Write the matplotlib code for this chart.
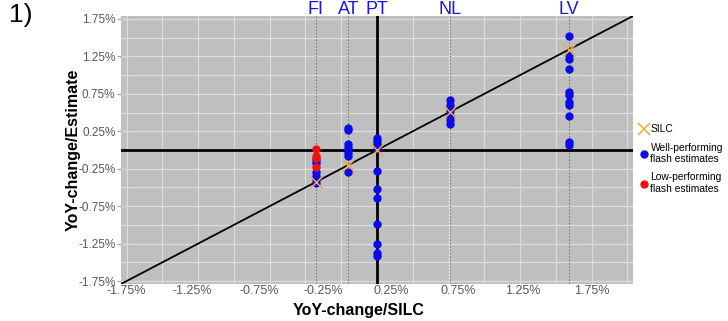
import numpy as np
import matplotlib.pyplot as plt
from matplotlib.lines import Line2D
from matplotlib.transforms import offset_copy

plt.rcParams['font.family'] = ['Liberation Sans', 'DejaVu Sans']

# Daten (YoY-Veränderung in %)
countries = ['FI', 'AT', 'PT', 'NL', 'LV']
silc = [-0.43, -0.20, 0.0, 0.51, 1.34]

fi_well = [-0.13, -0.17, -0.30, -0.35, -0.40, -0.44]
fi_low = [0.02, -0.08, -0.11, -0.23]
at_well = [0.30, 0.27, 0.08, 0.04, 0.0, -0.04, -0.08, -0.30]
pt_well = [0.16, 0.12, 0.08, 0.01, -0.28, -0.52, -0.64, -0.99, -1.26, -1.37, -1.42]
nl_well = [0.67, 0.60, 0.52, 0.45, 0.40, 0.35]
lv_well = [1.52, 1.27, 1.22, 1.08, 0.78, 0.73, 0.64, 0.60, 0.46, 0.11, 0.07]

well = [fi_well, at_well, pt_well, nl_well, lv_well]
low = [fi_low, [], [], [], []]

y_ticks = [1.75, 1.25, 0.75, 0.25, -0.25, -0.75, -1.25, -1.75]
x_tick_labels = ['-1.75%', '-1.25%', '-0.75%', '-0.25%', '0.25%', '0.75%', '1.25%', '1.75%']
# label positions as they sit in the original picture (slightly compressed)
x_tick_pos = [-1.755, -1.294, -0.825, -0.378, 0.098, 0.566, 1.021, 1.503]

lim = 1.79
fig = plt.figure(figsize=(7.28, 3.21), dpi=100)
ax = fig.add_axes([121 / 728, 1 - 284 / 321, 512 / 728, 268 / 321])
ax.set_facecolor('#BFBFBF')
ax.set_xlim(-lim, lim)
ax.set_ylim(-lim, lim)

# Gitter
grid = np.arange(-1.75, 1.76, 0.25)
for g in grid:
    ax.axvline(g, color='#DCDCDC', lw=0.9, zorder=1)
    ax.axhline(g, color='#DCDCDC', lw=0.9, zorder=1)

# gepunktete Linien pro Land + Beschriftung
top = offset_copy(ax.get_xaxis_transform(), fig=fig, x=0, y=1.5, units='points')
for c, s in zip(countries, silc):
    ax.axvline(s, color='#7F7F7F', lw=0.8, ls=(0, (1.5, 1.5)), zorder=2)
    ax.text(s, 1.0, c, transform=top, ha='center', va='baseline',
            color='#1414E6', fontsize=13, clip_on=False)

ax.axhline(0, color='black', lw=2, zorder=3)
ax.axvline(0, color='black', lw=2, zorder=3)
ax.plot([-lim, lim], [-lim, lim], color='black', lw=1.3, zorder=3)

for s, w, l in zip(silc, well, low):
    ax.scatter([s] * len(w), w, s=36, color='#0A0AEB', zorder=4, linewidths=0)
    if l:
        ax.scatter([s] * len(l), l, s=36, color='#F01010', zorder=5, linewidths=0)
ax.scatter(silc, silc, marker='x', s=75, color='#F2A93B', linewidths=1.1, zorder=6)

for sp in ax.spines.values():
    sp.set_visible(False)

ax.set_yticks(y_ticks)
ax.set_yticklabels([f'{v:.2f}%' for v in y_ticks])
ax.set_xticks(x_tick_pos)
ax.set_xticklabels(x_tick_labels)
ax.tick_params(axis='y', length=3, color='#A0A0A0', labelsize=8.5, labelcolor='#595959', pad=1)
ax.tick_params(axis='x', length=0, labelsize=9, labelcolor='#595959', pad=1)

fig.text(359 / 728, 1 - 311 / 321, 'YoY-change/SILC', ha='center', va='center',
         fontsize=11.5, fontweight='bold')
fig.text(73 / 728, 1 - 150 / 321, 'YoY-change/Estimate', ha='center', va='center',
         rotation=90, fontsize=11.5, fontweight='bold')
fig.text(0.012, 0.99, '1)', ha='left', va='top', fontsize=19)

handles = [
    Line2D([], [], marker='x', color='#F2A93B', ls='', markersize=9, mew=1.1),
    Line2D([], [], marker='o', color='#0A0AEB', ls='', markersize=5),
    Line2D([], [], marker='o', color='#F01010', ls='', markersize=5),
]
labels = ['SILC', 'Well-performing\nflash estimates', 'Low-performing\nflash estimates']
ax.legend(handles, labels, loc='upper left', bbox_to_anchor=(1.0, 0.615), frameon=False,
          fontsize=7.4, handletextpad=0.1, handlelength=1.1, borderaxespad=0.1,
          labelspacing=0.8)

fig.savefig('out.png', dpi=100)
